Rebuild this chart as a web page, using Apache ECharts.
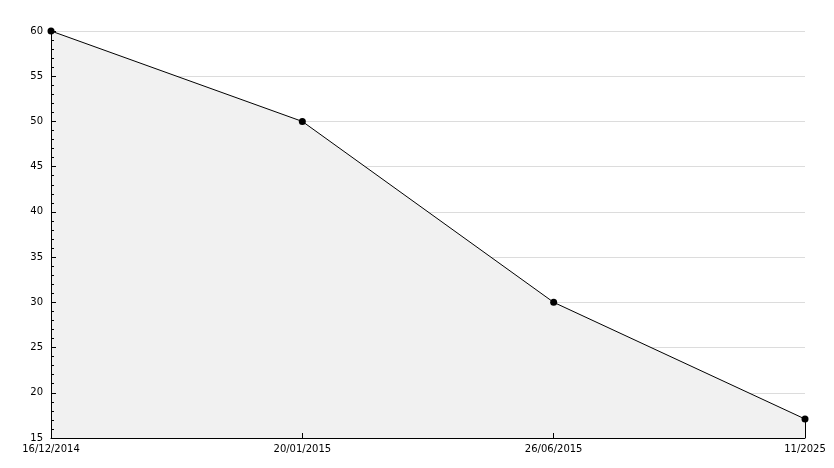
<!DOCTYPE html>
<html><head><meta charset="utf-8">
<script src="https://cdn.jsdelivr.net/npm/echarts@6/dist/echarts.min.js"></script>
<style>html,body{margin:0;padding:0;background:#fff}#c{width:834px;height:468px}</style>
</head><body><div id="c"></div>
<script>
const categories = ['16/12/2014', '20/01/2015', '26/06/2015', '11/2025'];
const values = [60, 50, 30, 17.1];
const yMin = 15, yMax = 60, yStep = 5;

const chart = echarts.init(document.getElementById('c'), null, {renderer: 'canvas'});
const font = {fontFamily: 'DejaVu Sans', fontSize: 10, color: '#000'};
chart.setOption({
  animation: false,
  grid: {left: 51, right: 29, top: 31, bottom: 30, containLabel: false},
  xAxis: {
    type: 'category', data: categories, boundaryGap: false, z: 10,
    axisLine: {lineStyle: {color: '#000', width: 1}},
    axisTick: {inside: true, length: 5, lineStyle: {color: '#000'}},
    axisLabel: Object.assign({margin: 6, showMinLabel: true, showMaxLabel: true, interval: 0}, font),
    splitLine: {show: false}
  },
  yAxis: [{
    type: 'value', min: yMin, max: yMax, interval: yStep, z: 10,
    axisLine: {show: true, lineStyle: {color: '#000', width: 1}},
    axisTick: {show: true, inside: true, length: 5, lineStyle: {color: '#000'}},
    minorTick: {show: true, splitNumber: 5, length: 3, lineStyle: {color: '#000'}},
    axisLabel: Object.assign({margin: 8}, font),
    splitLine: {show: false}
  }, {
    type: 'value', min: yMin, max: yMax, interval: yStep, z: 0, position: 'left',
    axisLine: {show: false}, axisTick: {show: false}, axisLabel: {show: false},
    splitLine: {show: true, lineStyle: {color: '#dcdcdc', width: 1}}
  }],
  series: [{
    type: 'line', data: values, z: 2, yAxisIndex: 0,
    lineStyle: {color: '#000', width: 1},
    itemStyle: {color: '#000'},
    symbol: 'circle', symbolSize: 7,
    areaStyle: {color: '#f1f1f1', opacity: 1},
    markLine: {
      silent: true, symbol: 'none', label: {show: false},
      lineStyle: {color: '#000', width: 1, type: 'solid'},
      data: [[{coord: [categories[categories.length - 1], values[values.length - 1]]},
              {coord: [categories[categories.length - 1], yMin]}]]
    }
  }]
});
</script></body></html>
